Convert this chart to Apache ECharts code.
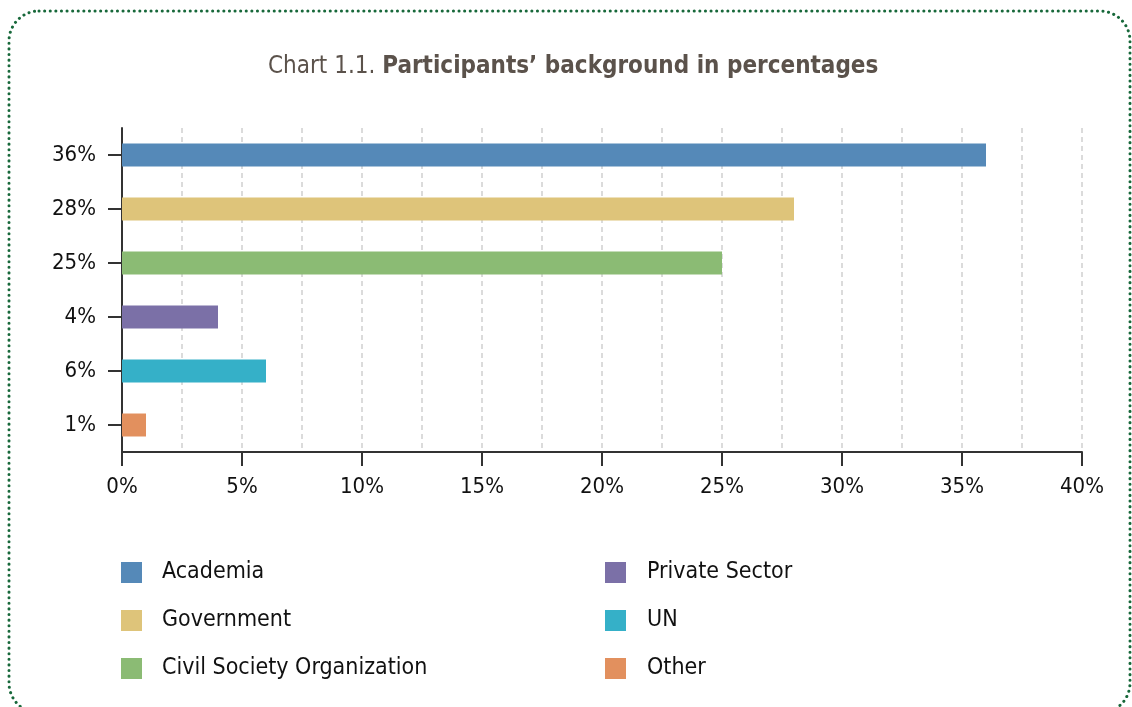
<!DOCTYPE html>
<html>
<head>
<meta charset="utf-8">
<script src="https://cdn.jsdelivr.net/npm/echarts@6/dist/echarts.min.js"></script>
<style>
html,body{margin:0;padding:0;background:#fff;}
#c{width:1132px;height:707px;}
</style>
</head>
<body>
<div id="c"></div>
<script>
var categories = ['36%', '28%', '25%', '4%', '6%', '1%'];
var seriesNames = ['Academia', 'Government', 'Civil Society Organization', 'Private Sector', 'UN', 'Other'];
var values = [36, 28, 25, 4, 6, 1];
var colors = ['#5589b8', '#dec47a', '#8bbb74', '#7b70a7', '#35b0c8', '#e2905e'];
var xTickValues = [0, 5, 10, 15, 20, 25, 30, 35, 40];

var FONT = '"DejaVu Sans Condensed", "Liberation Sans Narrow", "DejaVu Sans", sans-serif';

var series = seriesNames.map(function (name, i) {
  return {
    name: name,
    type: 'bar',
    stack: 'one',
    barWidth: 23,
    itemStyle: { color: colors[i] },
    data: values.map(function (v, j) { return j === i ? v : null; })
  };
});

var chart = echarts.init(document.getElementById('c'));
chart.setOption({
  animation: false,
  textStyle: { fontFamily: FONT },
  title: {
    text: '{n|Chart 1.1. }{b|Participants\u2019 background in percentages}',
    left: 268,
    top: 55,
    padding: 0,
    textStyle: {
      fontWeight: 'normal',
      rich: {
        n: { fontFamily: FONT, fontSize: 24, fontWeight: 'normal', color: '#5b524b' },
        b: { fontFamily: FONT, fontSize: 24, fontWeight: 'bold', color: '#5b524b' }
      }
    }
  },
  graphic: [{
    type: 'rect',
    shape: { x: 9, y: 11, width: 1121, height: 702, r: 30 },
    style: { fill: 'none', stroke: '#17683a', lineWidth: 3, lineDash: [0.1, 5.5], lineCap: 'round' },
    silent: true
  }],
  legend: [{
    data: seriesNames.slice(0, 3),
    orient: 'vertical',
    left: 121, top: 561, padding: 0,
    icon: 'rect', itemWidth: 21, itemHeight: 21, itemGap: 25,
    textStyle: { fontFamily: FONT, fontSize: 23, color: '#111', padding: [0, 0, 0, 15] }
  }, {
    data: seriesNames.slice(3),
    orient: 'vertical',
    left: 605, top: 561, padding: 0,
    icon: 'rect', itemWidth: 21, itemHeight: 21, itemGap: 25,
    textStyle: { fontFamily: FONT, fontSize: 23, color: '#111', padding: [0, 0, 0, 16] }
  }],
  grid: { left: 122, right: 50, top: 128, bottom: 255, containLabel: false },
  xAxis: {
    type: 'value', min: 0, max: 40, interval: 5,
    axisLine: { show: true, lineStyle: { color: '#333', width: 2 } },
    axisTick: { show: true, length: 14, lineStyle: { color: '#333', width: 2 } },
    axisLabel: { fontSize: 22, color: '#111', margin: 24, formatter: function (v) { return xTickValues.indexOf(v) >= 0 ? v + '%' : ''; } },
    splitLine: { show: true, lineStyle: { color: '#cfcfcf', width: 1.5, type: [5, 4] } },
    minorTick: { show: false, splitNumber: 2 },
    minorSplitLine: { show: true, lineStyle: { color: '#cfcfcf', width: 1.5, type: [5, 4] } }
  },
  yAxis: {
    type: 'category', data: categories, inverse: true,
    axisLine: { show: true, lineStyle: { color: '#333', width: 2 } },
    axisTick: { show: true, alignWithLabel: true, length: 14, lineStyle: { color: '#333', width: 2 } },
    axisLabel: { fontSize: 22, color: '#111', margin: 26 },
    splitLine: { show: false }
  },
  series: series
});
</script>
</body>
</html>
